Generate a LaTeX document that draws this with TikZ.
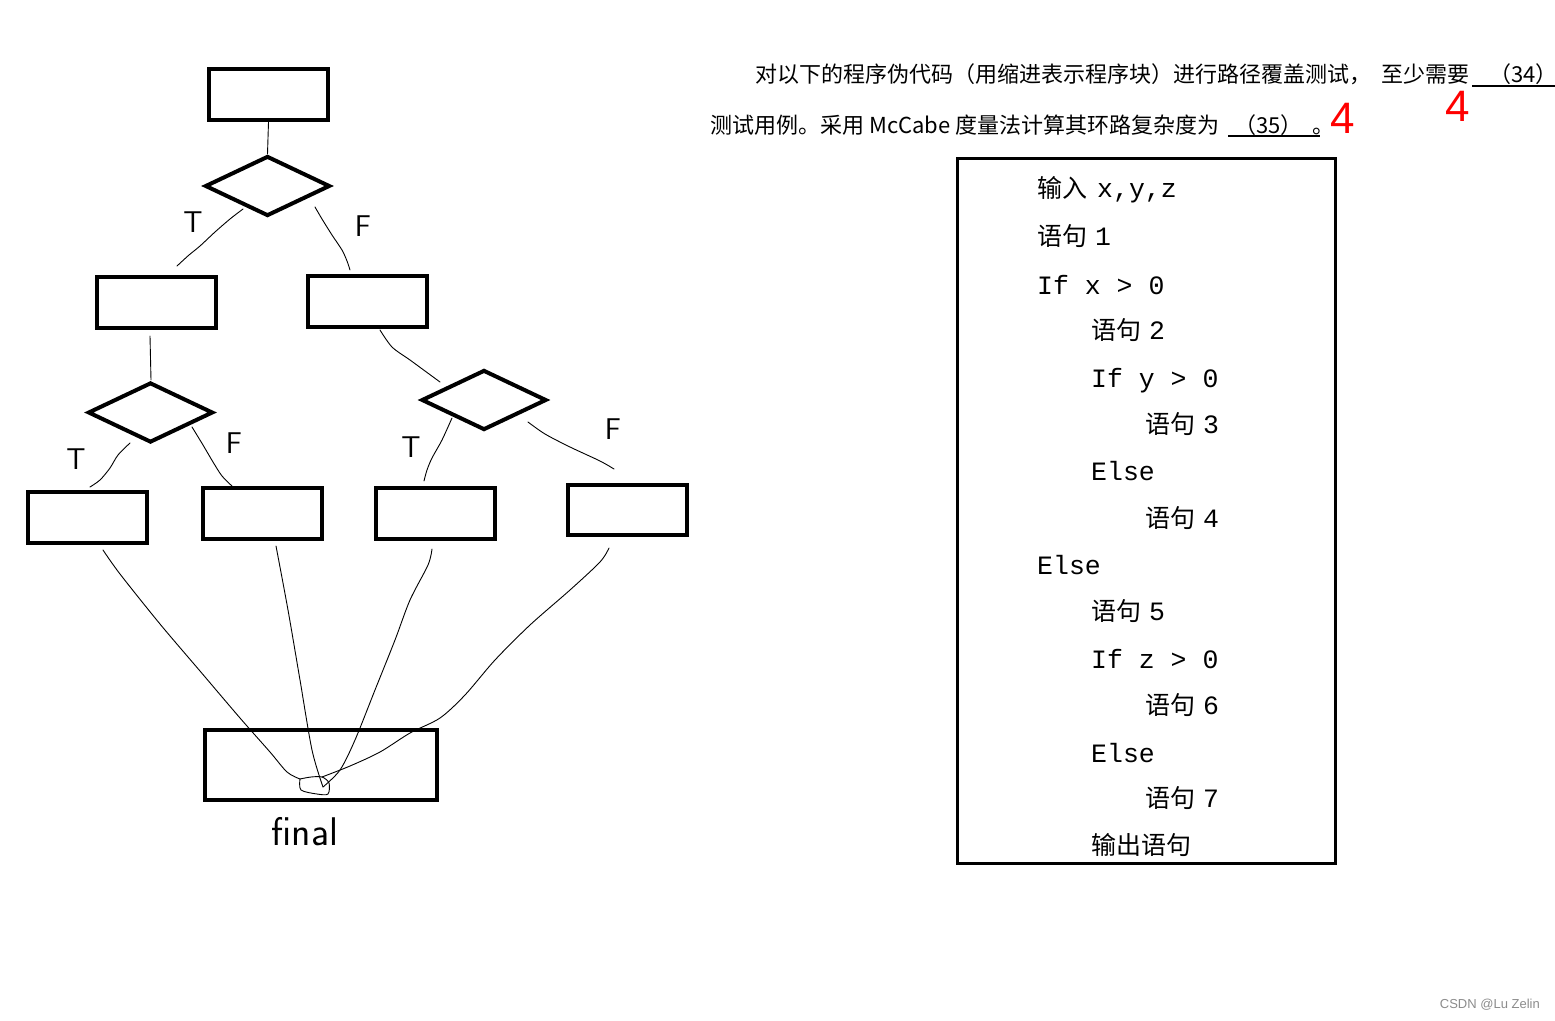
\documentclass[tikz,border=0pt]{standalone}
\usepackage{fontspec}
\setmainfont{Liberation Sans}
\newfontfamily\cjk{Noto Sans CJK SC}
\newfontfamily\mono{Liberation Mono}
\usetikzlibrary{shapes.geometric}
\begin{document}
\begin{tikzpicture}[x=1pt,y=-1pt,
  box/.style={draw,line width=4pt,rectangle,minimum width=119pt,minimum height=51pt,inner sep=0pt},
  dia/.style={draw,line width=4pt,diamond,minimum width=125pt,minimum height=60pt,inner sep=0pt},
  hand/.style={line width=0.9pt,line cap=round,line join=round},
  lbl/.style={font=\sffamily\fontsize{30}{30}\selectfont,inner sep=0pt},
  code/.style={anchor=base west,inner sep=0pt},
  cn/.style={font=\cjk\fontsize{22}{26}\selectfont,anchor=base west,inner sep=0pt},
  redfour/.style={text=red,font=\fontsize{44}{44}\selectfont,inner sep=0pt},
]
\useasboundingbox[fill=white] (0,0) rectangle (1555,1020);

% ---------- flow graph ----------
\node[box] (n0) at (268.5,94.5) {};
\node[dia] (d0) at (267.5,186) {};
\node[box] (n1) at (156.5,302) {};
\node[box] (n2) at (367.5,301) {};
\node[dia] (d1) at (150.5,412.5) {};
\node[dia] (d2) at (484,400) {};
\node[box] (b1) at (87.5,517.5) {};
\node[box] (b2) at (262.5,513.5) {};
\node[box] (b3) at (435.5,513.5) {};
\node[box,minimum height=50pt] (b4) at (627.5,510) {};
\node[draw,line width=4pt,minimum width=232pt,minimum height=70pt,inner sep=0pt] (fin) at (321,765) {};

% end points of hand-drawn connectors
\coordinate (c1a) at (243,209); \coordinate (c1b) at (177,266);
\coordinate (c2a) at (315,207); \coordinate (c2b) at (350,270);
\coordinate (c3a) at (150,336); \coordinate (c3b) at (151,380);
\coordinate (c4a) at (380,330); \coordinate (c4b) at (440,382);
\coordinate (c5a) at (130,443); \coordinate (c5b) at (90,487);
\coordinate (c6a) at (192,427); \coordinate (c6b) at (232,486);
\coordinate (c7a) at (452,418); \coordinate (c7b) at (424,481);
\coordinate (c8a) at (528,422); \coordinate (c8b) at (614,469);
\coordinate (f1) at (103,550);
\coordinate (f2) at (276,546);
\coordinate (f3) at (432,549);
\coordinate (f4) at (609,548);
\coordinate (fc) at (323,787);

\draw[hand] (n0.south) -- (d0.north);
\draw[hand] plot[smooth] coordinates {(c1a) (230,219) (215,232) (200,246) (189,255) (c1b)};
\draw[hand] plot[smooth] coordinates {(c2a) (322,219) (332,235) (342,250) (347,261) (c2b)};
\draw[hand] (c3a) -- (c3b);
\draw[hand] plot[smooth] coordinates {(c4a) (392,347) (410,360) (425,371) (c4b)};
\draw[hand] plot[smooth] coordinates {(c5a) (118,455) (110,468) (100,480) (c5b)};
\draw[hand] plot[smooth] coordinates {(c6a) (203,445) (213,462) (222,476) (c6b)};
\draw[hand] plot[smooth] coordinates {(c7a) (442,440) (432,458) (427,470) (c7b)};
\draw[hand] plot[smooth] coordinates {(c8a) (545,434) (570,447) (600,461) (c8b)};

\draw[hand] plot[smooth] coordinates {(f1) (120,574) (160,624) (200,671) (240,718) (270,752) (287,772) (300,779)};
\draw[hand] plot[smooth] coordinates {(f2) (288,610) (300,680) (312,750) (fc)};
\draw[hand] plot[smooth] coordinates {(f3) (428,565) (410,600) (395,640) (375,690) (355,740) (340,770) (fc)};
\draw[hand] plot[smooth] coordinates {(f4) (600,562) (570,590) (530,625) (495,660) (465,695) (440,718) (410,733) (380,752) (350,766) (322,777)};
\draw[hand] plot[smooth] coordinates {(300,779) (301,790) (317,794) (328,794) (329,783) (322,777) (311,777) (300,779)};

% hand-written labels
\node[lbl] (t0) at (193,222) {T};
\node[lbl] (f0) at (363,226) {F};
\node[lbl] (t1) at (76,459) {T};
\node[lbl] (ff1) at (234,443) {F};
\node[lbl] (t2) at (411,447) {T};
\node[lbl] (ff2) at (613,429) {F};
\node[font=\sffamily\fontsize{40}{40}\selectfont,inner sep=0pt] (finl) at (305,832) {final};

% ---------- question text ----------
\node[cn] (q1) at (755,82) {对以下的程序伪代码（用缩进表示程序块）进行路径覆盖测试，};
\node[cn] (q2) at (1381,82) {至少需要};
\node[cn] (q3) at (1489,82) {（34）};
\draw[line width=1.3pt] (1472,86) -- (1555,86);
\node[cn] (q4) at (710,133) {测试用例。采用 McCabe 度量法计算其环路复杂度为};
\node[cn] (q5) at (1234,133) {（35）};
\draw[line width=1.3pt] (1228,136) -- (1320,136);
\node[cn] (q6) at (1312,133) {\makebox[8pt][l]{。}};
\node[redfour] (r1) at (1458,106) {4};
\node[redfour] (r2) at (1343,118) {4};

% ---------- code box ----------
\node[draw,line width=3pt,minimum width=378pt,minimum height=705pt,inner sep=0pt] (codebox) at (1146,510.5) {};
\begin{scope}[every node/.style={code}]
\newcommand{\cc}[1]{{\cjk\fontsize{25}{30}\selectfont #1}}
\newcommand{\mm}[1]{{\mono\fontsize{26.5}{30}\selectfont #1}}
\node (l1) at (1037,197) {\cc{输入}\hspace{10pt}\mm{x,y,z}};
\node (l2) at (1037,245) {\cc{语句}\hspace{8pt}\mm{1}};
\node (l3) at (1037,294) {\mm{If x > 0}};
\node (l4) at (1091,339) {\cc{语句}\hspace{8pt}\mm{2}};
\node (l5) at (1091,387) {\mm{If y > 0}};
\node (l6) at (1145,433) {\cc{语句}\hspace{8pt}\mm{3}};
\node (l7) at (1091,480) {\mm{Else}};
\node (l8) at (1145,527) {\cc{语句}\hspace{8pt}\mm{4}};
\node (l9) at (1037,574) {\mm{Else}};
\node (l10) at (1091,620) {\cc{语句}\hspace{8pt}\mm{5}};
\node (l11) at (1091,668) {\mm{If z > 0}};
\node (l12) at (1145,714) {\cc{语句}\hspace{8pt}\mm{6}};
\node (l13) at (1091,762) {\mm{Else}};
\node (l14) at (1145,807) {\cc{语句}\hspace{8pt}\mm{7}};
\node (l15) at (1091,854) {\cc{输出语句}};
\end{scope}

\node[text=black!45,font=\fontsize{13}{13}\selectfont,anchor=east,inner sep=0pt] (wm) at (1540,1005) {CSDN @Lu Zelin};
\end{tikzpicture}
\end{document}
